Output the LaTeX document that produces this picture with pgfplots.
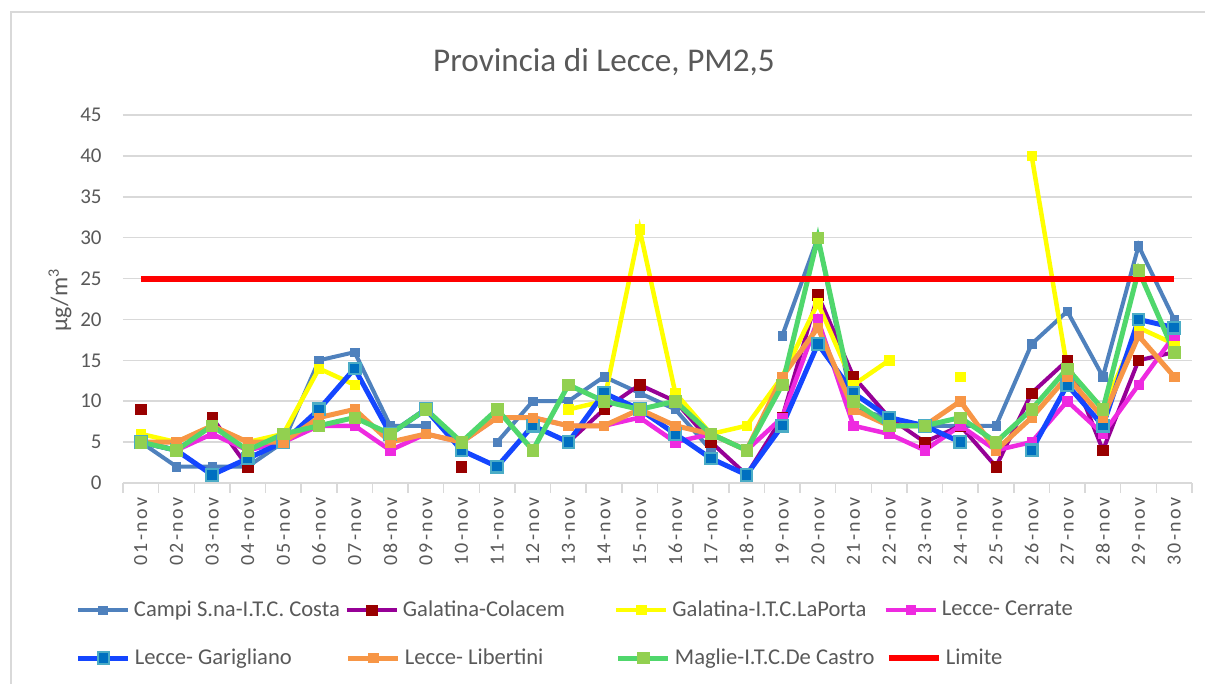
\documentclass[border=0pt]{standalone}
\usepackage{fontspec}
\setmainfont{Carlito}
\newfontfamily\tickfont[LetterSpace=12]{Carlito}
\usepackage{pgfplots}
\usepackage{pgfplotstable}
\pgfplotsset{compat=1.18}

\definecolor{gridgray}{HTML}{D9D9D9}
\definecolor{tickgray}{HTML}{595959}
\definecolor{campic}{HTML}{4F81BD}
\definecolor{colacemline}{HTML}{960096}
\definecolor{colacemmark}{HTML}{990000}
\definecolor{laportac}{HTML}{FFFF00}
\definecolor{cerratec}{HTML}{EE2AE0}
\definecolor{garline}{HTML}{1446FF}
\definecolor{garfill}{HTML}{0070C0}
\definecolor{garborder}{HTML}{4BACC6}
\definecolor{libertinic}{HTML}{F79646}
\definecolor{magline}{HTML}{50D76C}
\definecolor{magmark}{HTML}{92D050}
\definecolor{limitec}{HTML}{FF0000}

\pgfplotstableread{
day campi colacem laporta cerrate garigliano libertini maglie limite
1  5   9   6   5   5   5   5   25
2  2   nan 5   4   4   5   4   25
3  2   8   7   6   1   7   7   25
4  2   2   5   4   3   5   4   25
5  5   nan 6   5   5   5   6   25
6  15  nan 14  7   9   8   7   25
7  16  nan 12  7   14  9   8   25
8  7   nan nan 4   6   5   6   25
9  7   nan nan 6   9   6   9   25
10 nan 2   nan 5   4   5   5   25
11 5   nan nan 8   2   8   9   25
12 10  nan nan 8   7   8   4   25
13 10  5   9   7   5   7   12  25
14 13  9   10  7   11  7   10  25
15 11  12  31  8   9   9   9   25
16 9   10  11  5   6   7   10  25
17 4   5   6   6   3   6   6   25
18 nan 1   7   4   1   4   4   25
19 18  8   13  8   7   13  12  25
20 30  23  22  20  17  19  30  25
21 9   13  12  7   11  9   10  25
22 8   8   15  6   8   7   7   25
23 7   5   nan 4   7   7   7   25
24 7   7   13  7   5   10  8   25
25 7   2   nan 4   nan 4   5   25
26 17  11  40  5   4   8   9   25
27 21  15  14  10  12  13  14  25
28 13  4   9   6   7   8   9   25
29 29  15  19  12  20  18  26  25
30 20  16  17  18  19  13  16  25
}\data

\newcommand{\lgd}[1]{\makebox[105.5pt][l]{#1}}
\pgfplotsset{
  campistyle/.style={campic, line width=2pt, mark=square*, mark size=2.1pt, mark options={solid, line width=0.3pt, fill=campic, draw=campic}},
  colacemstyle/.style={colacemline, line width=2pt, mark=square*, mark size=2.6pt, mark options={solid, line width=0.3pt, fill=colacemmark, draw=colacemmark}},
  laportastyle/.style={laportac, line width=2.25pt, mark=square*, mark size=2.35pt, mark options={solid, line width=0.3pt, fill=laportac, draw=laportac}},
  cerratestyle/.style={cerratec, line width=2.25pt, mark=square*, mark size=2.35pt, mark options={solid, line width=0.3pt, fill=cerratec, draw=cerratec}},
  garstyle/.style={garline, line width=2.5pt, mark=square*, mark size=2.9pt, mark options={solid, fill=garfill, draw=garborder, line width=1.1pt}},
  libstyle/.style={libertinic, line width=2.5pt, mark=square*, mark size=2.35pt, mark options={solid, line width=0.3pt, fill=libertinic, draw=libertinic}},
  magstyle/.style={magline, line width=2.5pt, mark=square*, mark size=2.85pt, mark options={solid, line width=0.3pt, fill=magmark, draw=magmark}},
  limstyle/.style={limitec, line width=3pt, no marks},
  mylegend/.style={
    legend columns=4,
    legend cell align=left,
    legend image code/.code={\draw[mark repeat=2,mark phase=2] plot coordinates {(0pt,0pt) (12.5pt,0pt) (25pt,0pt)};},
    legend style={at={(axis description cs:-0.044,#1)}, anchor=north west, draw=none, fill=none, inner sep=0pt, outer sep=0pt, column sep=0pt, /tikz/every odd column/.append style={column sep=2pt}, font=\fontsize{11.3}{13}\selectfont, text=tickgray, nodes={inner sep=0pt}},
  },
  axisgeom/.style={at={(61.5pt,100.5pt)}, anchor=south west,
    scale only axis, width=534.5pt, height=184pt,
    xmin=0.5, xmax=30.5, ymin=0, ymax=45},
}

\begin{document}
\begin{tikzpicture}
\path[use as bounding box] (0,0) rectangle (602.5pt,342pt);
\draw[gridgray, line width=1.25pt] (5.5pt,0) -- (5.5pt,336pt) -- (603pt,336pt);
\begin{axis}[
  axisgeom,
  xtick={1,...,30},
  xticklabels={01-nov,02-nov,03-nov,04-nov,05-nov,06-nov,07-nov,08-nov,09-nov,10-nov,11-nov,12-nov,13-nov,14-nov,15-nov,16-nov,17-nov,18-nov,19-nov,20-nov,21-nov,22-nov,23-nov,24-nov,25-nov,26-nov,27-nov,28-nov,29-nov,30-nov},
  minor xtick={0.5,1.5,...,30.5},
  ytick={0,5,...,45},
  ymajorgrids, grid style={draw=gridgray, line width=0.75pt},
  axis x line*=bottom, axis y line*=left,
  x axis line style={draw=gridgray, line width=0.75pt, -},
  y axis line style={draw=none},
  major tick length=0pt, minor tick length=5pt,
  tick align=outside,
  minor x tick style={draw=gridgray, line width=0.75pt},
  ytick style={draw=none},
  xticklabel style={yshift=-7pt, rotate=90, anchor=east, inner sep=0pt, font=\tickfont\fontsize{10}{12}\selectfont, text=tickgray},
  yticklabel style={/pgf/number format/assume math mode=true, inner sep=0pt, xshift=-10.5pt, font=\fontsize{10.5}{12}\selectfont, text=tickgray},
  unbounded coords=jump,
  clip=false,
  mylegend=-0.3199,
]
\addplot[campistyle] table[x=day, y=campi] {\data};
\addlegendentry{\lgd{Campi S.na-I.T.C. Costa}}
\addplot[colacemstyle] table[x=day, y=colacem] {\data};
\addlegendentry{\lgd{Galatina-Colacem}}
\addplot[laportastyle] table[x=day, y=laporta] {\data};
\addlegendentry{\lgd{Galatina-I.T.C.LaPorta}}
\addplot[cerratestyle] table[x=day, y=cerrate] {\data};
\addlegendentry{\lgd{Lecce- Cerrate}}
\addplot[garstyle] table[x=day, y=garigliano] {\data};
\addplot[libstyle] table[x=day, y=libertini] {\data};
\addplot[magstyle] table[x=day, y=maglie] {\data};
\addplot[limstyle] table[x=day, y=limite] {\data};
\end{axis}
\begin{axis}[axisgeom, hide axis, mylegend=-0.4503]
\addlegendimage{garstyle}
\addlegendentry{\lgd{Lecce- Garigliano}}
\addlegendimage{libstyle}
\addlegendentry{\lgd{Lecce- Libertini}}
\addlegendimage{magstyle}
\addlegendentry{\lgd{Maglie-I.T.C.De Castro}}
\addlegendimage{limstyle}
\addlegendentry{\lgd{Limite}}
\end{axis}
\node[text=tickgray, font=\fontsize{16.6}{20}\selectfont] at (302pt,311pt) {Provincia di Lecce, PM2,5};
\node[rotate=90, text=tickgray, font=\fontsize{12}{14}\selectfont] at (30pt,192pt) {µg/m\textsuperscript{3}};
\end{tikzpicture}
\end{document}
